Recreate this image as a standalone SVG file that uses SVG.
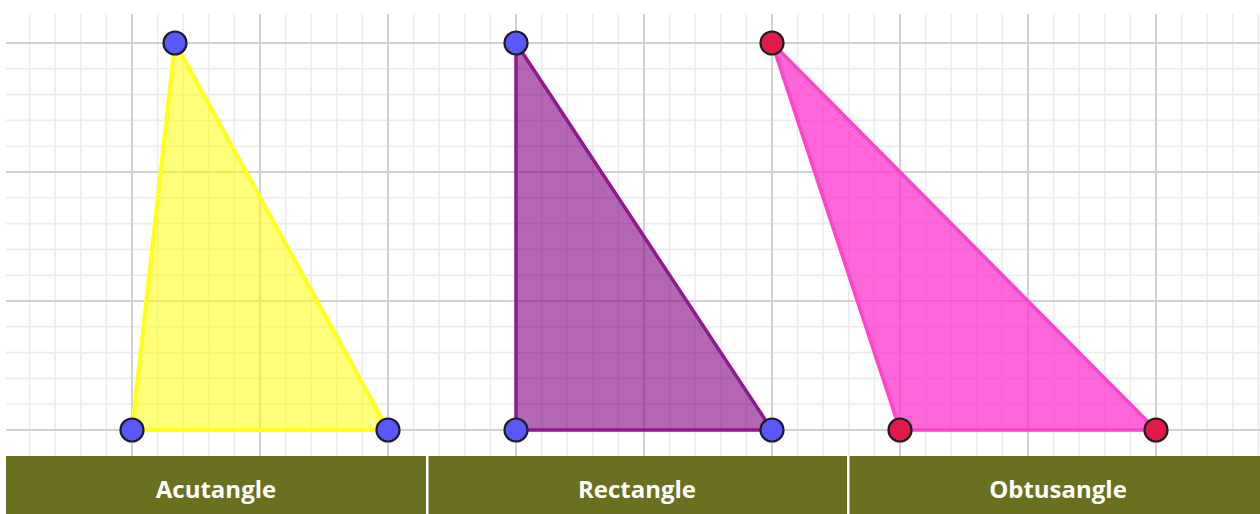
<svg xmlns="http://www.w3.org/2000/svg" width="1260" height="514" viewBox="0 0 1260 514">
  <style>
    .minor { stroke: #ececec; stroke-width: 1.6; fill: none; }
    .major { stroke: #d2d2d2; stroke-width: 2.2; fill: none; }
    .pt-blue { fill: #5858fc; stroke: #1e1e2a; stroke-width: 2.2; }
    .pt-red { fill: #e01b4a; stroke: #1e1e1e; stroke-width: 2.2; }
    .label { font-family: "Open Sans", "Liberation Sans", sans-serif; font-weight: bold; font-size: 24px; fill: #ffffff; text-anchor: middle; }
  </style>
  <rect x="0" y="0" width="1260" height="514" fill="#ffffff"/>
  <g id="grid">
    <path class="minor" d="M29.6 14V456M55.2 14V456M80.8 14V456M106.4 14V456M157.6 14V456M183.2 14V456M208.8 14V456M234.4 14V456M285.6 14V456M311.2 14V456M336.8 14V456M362.4 14V456M413.6 14V456M439.2 14V456M464.8 14V456M490.4 14V456M541.6 14V456M567.2 14V456M592.8 14V456M618.4 14V456M669.6 14V456M695.2 14V456M720.8 14V456M746.4 14V456M797.6 14V456M823.2 14V456M848.8 14V456M874.4 14V456M925.6 14V456M951.2 14V456M976.8 14V456M1002.4 14V456M1053.6 14V456M1079.2 14V456M1104.8 14V456M1130.4 14V456M1181.6 14V456M1207.2 14V456M1232.8 14V456M1258.4 14V456"/>
    <path class="minor" d="M6 68.8H1260M6 94.6H1260M6 120.4H1260M6 146.2H1260M6 197.8H1260M6 223.6H1260M6 249.4H1260M6 275.2H1260M6 326.8H1260M6 352.6H1260M6 378.4H1260M6 404.2H1260"/>
    <path class="major" d="M132 14V456M260 14V456M388 14V456M516 14V456M644 14V456M772 14V456M900 14V456M1028 14V456M1156 14V456"/>
    <path class="major" d="M6 43H1260M6 172H1260M6 301H1260M6 430H1260"/>
  </g>
  <g id="acutangle">
    <polygon points="175,43 132,430 388,430" fill="#ffff00" fill-opacity="0.52" stroke="#ffff1a" stroke-width="4" stroke-linejoin="round"/>
    <circle class="pt-blue" cx="175" cy="43" r="11.5"/>
    <circle class="pt-blue" cx="132" cy="430" r="11.5"/>
    <circle class="pt-blue" cx="388" cy="430" r="11.5"/>
  </g>
  <g id="rectangle">
    <polygon points="516,43 516,430 772,430" fill="#800080" fill-opacity="0.6" stroke="#8e1a8e" stroke-width="3.5" stroke-linejoin="round"/>
    <circle class="pt-blue" cx="516" cy="43" r="11.5"/>
    <circle class="pt-blue" cx="516" cy="430" r="11.5"/>
    <circle class="pt-blue" cx="772" cy="430" r="11.5"/>
  </g>
  <g id="obtusangle">
    <polygon points="772,43 900,430 1156,430" fill="#ff33cc" fill-opacity="0.75" stroke="#ff44cc" stroke-width="3.5" stroke-linejoin="round"/>
    <circle class="pt-red" cx="772" cy="43" r="11.5"/>
    <circle class="pt-red" cx="900" cy="430" r="11.5"/>
    <circle class="pt-red" cx="1156" cy="430" r="11.5"/>
  </g>
  <g id="banner">
    <rect x="6" y="456" width="1254" height="58" fill="#6b7021"/>
    <rect x="426" y="456" width="2.5" height="58" fill="#ffffff"/>
    <rect x="847" y="456" width="2.5" height="58" fill="#ffffff"/>
    <text class="label" x="216" y="498">Acutangle</text>
    <text class="label" x="637" y="498">Rectangle</text>
    <text class="label" x="1058" y="498">Obtusangle</text>
  </g>
</svg>
